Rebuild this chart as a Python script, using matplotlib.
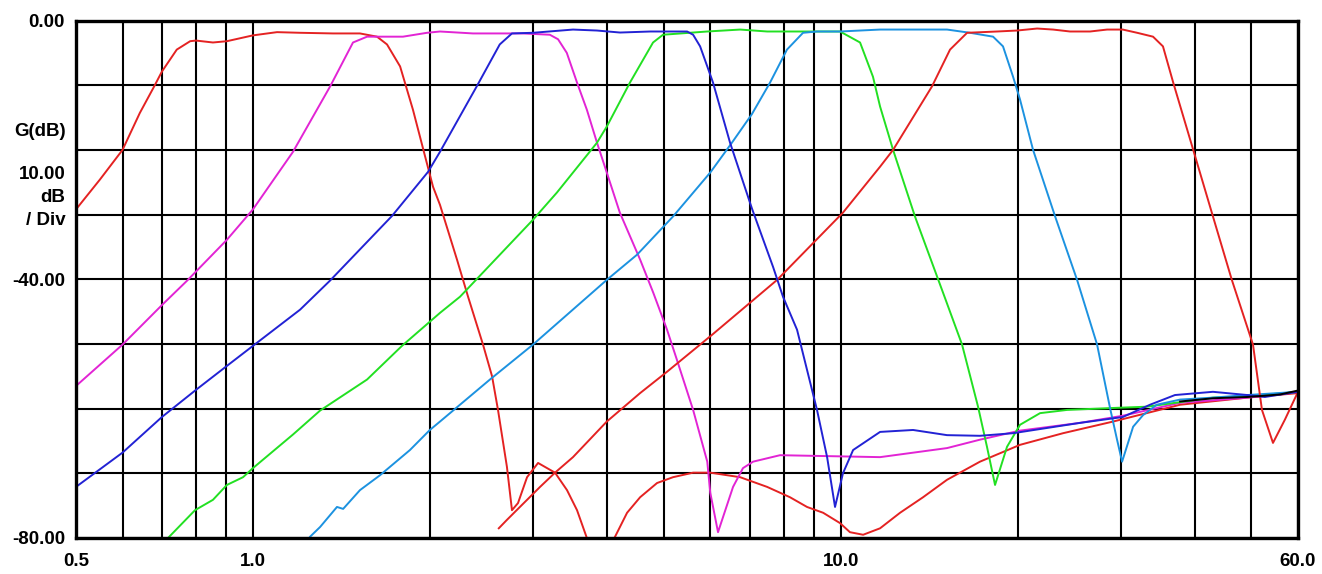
import matplotlib
matplotlib.use('Agg')
import matplotlib.pyplot as plt
from matplotlib.ticker import FixedLocator, NullFormatter

# filter bank responses, frequency (MHz) and gain (dB)
red1_f = [0.5, 0.549, 0.6, 0.642, 0.68, 0.70, 0.742, 0.782, 0.80, 0.855, 0.903, 1.0,
          1.099, 1.203, 1.369, 1.521, 1.626, 1.691, 1.78, 1.872, 1.963, 2.025, 2.081,
          2.225, 2.323, 2.463, 2.552, 2.612, 2.705, 2.759, 2.825, 2.927, 3.056, 3.266,
          3.423, 3.56, 3.70, 3.9, 4.132, 4.331, 4.558, 4.871, 5.185, 5.61, 6.0, 6.744,
          7.497, 8.2, 8.765, 9.337, 9.976, 10.37, 10.92, 11.67, 12.62, 13.81, 15.17,
          17.26, 20.19, 23.9, 29.07, 37.8, 49.2, 60.0]
red1_db = [-29.2, -24.6, -20.0, -14.3, -10.1, -7.9, -4.5, -3.2, -3.1, -3.4, -3.2, -2.3,
           -1.8, -1.9, -2.0, -2.0, -2.5, -3.7, -7.1, -13.8, -21.0, -25.7, -28.5,
           -37.0, -42.7, -50.1, -55.0, -60.2, -69.0, -75.7, -74.6, -70.6, -68.4, -69.9,
           -72.6, -75.7, -80.0, -84.0, -79.8, -76.1, -73.7, -71.5, -70.6, -69.9, -69.9, -70.6,
           -72.1, -73.7, -75.2, -76.1, -77.7, -79.1, -79.5, -78.5, -76.1, -73.7, -71.0,
           -68.2, -65.6, -63.8, -62.0, -59.4, -58.3, -57.6]

mag_f = [0.5, 0.6, 0.7, 0.773, 0.903, 1.0, 1.17, 1.353, 1.48, 1.564, 1.8, 1.978,
         2.081, 2.368, 2.881, 3.2, 3.305, 3.42, 3.56, 3.70, 3.85, 4.0, 4.21, 4.56,
         4.80, 5.065, 5.267, 5.61, 5.93, 6.0, 6.185, 6.56, 6.82, 7.095, 7.885, 9.0,
         11.67, 15.17, 17.26, 20.19, 25.55, 30.2, 37.8, 49.2, 60.0]
mag_db = [-56.5, -50.1, -44.0, -40.2, -33.9, -29.2, -20.3, -10.2, -3.4, -2.5, -2.5, -1.9,
          -1.7, -2.0, -2.0, -2.2, -2.9, -5.0, -9.6, -13.8, -18.9, -23.5, -29.7, -37.0,
          -42.1, -47.8, -52.5, -60.2, -68.2, -73.0, -79.1, -72.1, -69.2, -68.2, -67.2, -67.3,
          -67.5, -66.1, -64.8, -63.4, -62.2, -61.1, -59.1, -58.3, -57.4]

blue_f = [0.5, 0.6, 0.7, 0.8, 0.9, 1.0, 1.203, 1.353, 1.725, 1.986, 2.081, 2.406,
          2.63, 2.759, 2.996, 3.504, 3.849, 4.213, 4.745, 5.48, 5.61, 5.766, 5.93,
          6.065, 6.484, 7.06, 7.674, 7.978, 8.429, 9.115, 9.483, 9.782, 10.09, 10.5,
          11.67, 13.28, 15.17, 17.26, 19.65, 25.55, 30.2, 33.6, 37.05, 43.0, 49.2,
          52.7, 60.0]
blue_db = [-72.1, -66.8, -61.3, -57.1, -53.5, -50.3, -44.7, -40.2, -30.2, -23.4, -20.3, -10.1,
           -3.7, -2.0, -1.9, -1.4, -1.55, -1.86, -1.7, -1.7, -2.2, -4.0, -7.1,
           -9.6, -18.9, -29.0, -38.1, -42.7, -47.8, -60.2, -67.5, -75.2, -70.0, -66.4,
           -63.6, -63.3, -64.1, -64.2, -63.8, -62.2, -61.3, -59.4, -57.9, -57.4, -57.9,
           -58.2, -57.4]

green_f = [0.717, 0.797, 0.855, 0.903, 0.962, 1.0, 1.17, 1.301, 1.564, 1.793, 2.081,
           2.251, 2.996, 3.29, 3.849, 4.0, 4.38, 4.795, 4.986, 5.93, 6.744, 7.5, 9.976,
           10.79, 11.35, 11.67, 12.28, 13.38, 15.05, 16.09, 17.13, 17.74, 18.31, 19.19,
           20.19, 21.84, 24.28, 29.07, 33.2, 37.8, 43.0, 49.2, 60.0]
green_db = [-80.0, -75.7, -74.1, -71.8, -70.6, -69.2, -64.0, -60.3, -55.5, -50.3, -45.2,
            -42.7, -30.8, -26.6, -18.9, -16.4, -9.6, -3.4, -2.2, -1.7, -1.4, -1.7, -1.7,
            -3.4, -8.7, -13.3, -20.0, -30.3, -42.9, -50.1, -59.7, -65.9, -71.8, -65.9,
            -62.5, -60.7, -60.2, -59.9, -59.7, -59.0, -58.3, -58.1, -57.4]

cyan_f = [1.251, 1.301, 1.39, 1.424, 1.521, 1.645, 1.85, 2.0, 2.081, 2.531, 2.996,
          4.0, 4.504, 5.185, 6.0, 6.53, 7.06, 7.583, 8.103, 8.629, 9.115, 9.976, 11.67,
          15.17, 16.6, 18.17, 18.89, 19.65, 20.19, 21.25, 23.17, 25.25, 27.31, 28.73,
          29.53, 30.12, 31.45, 32.7, 34.5, 37.8, 43.0, 49.2, 60.0]
cyan_db = [-79.8, -78.3, -75.2, -75.5, -72.6, -70.3, -66.4, -63.3, -62.0, -55.5, -50.1,
           -40.1, -36.2, -30.3, -23.5, -18.9, -14.5, -9.6, -4.5, -1.9, -1.7, -1.7, -1.4,
           -1.4, -1.9, -2.5, -4.0, -8.7, -12.2, -20.0, -30.3, -40.1, -50.1, -59.9,
           -64.8, -68.2, -62.8, -61.0, -59.4, -58.6, -58.3, -57.9, -57.4]

red7_f = [2.62, 2.705, 2.927, 3.08, 3.266, 3.504, 4.0, 4.558, 5.065, 6.04, 7.796,
          10.09, 11.67, 12.28, 14.3, 15.35, 16.41, 18.45, 19.96, 21.59, 22.98, 24.56,
          26.57, 28.4, 30.2, 31.95, 34.0, 35.35, 36.8, 40.1, 43.0, 46.3, 50.3, 52.1,
          54.4, 57.0, 60.0]
red7_db = [-78.5, -77.2, -74.1, -72.1, -69.9, -67.5, -62.0, -57.6, -54.3, -48.6, -40.1,
           -29.7, -22.6, -20.0, -10.2, -4.5, -1.9, -1.7, -1.55, -1.24, -1.4, -1.7,
           -1.7, -1.4, -1.4, -1.9, -2.5, -4.0, -9.6, -21.0, -30.3, -40.1, -50.1, -60.2,
           -65.3, -61.7, -57.4]

black_f = [37.8, 43.0, 49.2, 52.7, 56.0, 60.0]
black_db = [-58.9, -58.4, -58.2, -58.0, -57.8, -57.2]

traces = [
    (red1_f, red1_db, '#e42222'),
    (mag_f, mag_db, '#e224d4'),
    (green_f, green_db, '#22e022'),
    (cyan_f, cyan_db, '#1c92e0'),
    (red7_f, red7_db, '#e42222'),
    (blue_f, blue_db, '#2222d4'),
    (black_f, black_db, '#000000'),
]

x_major = [0.5, 1.0, 10.0, 60.0]
x_major_labels = ['0.5', '1.0', '10.0', '60.0']
x_minor = [0.6, 0.7, 0.8, 0.9, 2, 3, 4, 5, 6, 7, 8, 9, 20, 30, 40, 50]
y_grid = [0, -10, -20, -30, -40, -50, -60, -70, -80]
y_labels = {0: '0.00', -40: '-40.00', -80: '-80.00'}

plt.rcParams['font.family'] = ['Liberation Sans', 'DejaVu Sans']
plt.rcParams['font.weight'] = 'bold'

fig = plt.figure(figsize=(13.22, 5.74), dpi=100)
ax = fig.add_axes([76 / 1322, 1 - 538 / 574, 1222 / 1322, 517.5 / 574])

for f, g, c in traces:
    ax.plot(f, g, color=c, lw=1.4, zorder=3)

ax.set_xscale('log')
ax.set_xlim(0.5, 60)
ax.set_ylim(-80, 0)

ax.xaxis.set_major_locator(FixedLocator(x_major))
ax.xaxis.set_minor_locator(FixedLocator(x_minor))
ax.xaxis.set_minor_formatter(NullFormatter())
ax.set_xticklabels(x_major_labels)
ax.set_yticks(y_grid)
ax.set_yticklabels([y_labels.get(v, '') for v in y_grid])

ax.grid(True, which='both', color='black', lw=1.5, zorder=1)
ax.tick_params(which='both', length=0)
ax.tick_params(axis='x', pad=11, labelsize=13.5)
ax.tick_params(axis='y', pad=8, labelsize=13.5)
for s in ax.spines.values():
    s.set_linewidth(2.4)
    s.set_zorder(4)

side = ax.get_yaxis_transform()
ax.text(-0.0085, -17.2, 'G(dB)', transform=side, ha='right', va='center', fontsize=13.5)
ax.text(-0.0085, -23.8, '10.00', transform=side, ha='right', va='center', fontsize=13.5)
ax.text(-0.0085, -27.4, 'dB', transform=side, ha='right', va='center', fontsize=13.5)
ax.text(-0.0085, -30.9, '/ Div', transform=side, ha='right', va='center', fontsize=13.5)

fig.savefig('out.png', dpi=100)
